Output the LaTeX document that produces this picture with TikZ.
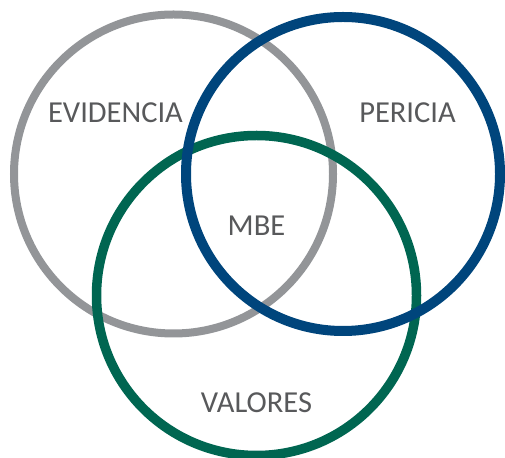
\documentclass[tikz,border=0pt]{standalone}
\usepackage{fontspec}
\setmainfont{Carlito}
\definecolor{ringgray}{HTML}{939598}
\definecolor{ringblue}{HTML}{00457C}
\definecolor{ringgreen}{HTML}{006651}
\definecolor{txt}{HTML}{58595B}
\tikzset{
  ring/.style={line width=#1},
  lbl/.style={text=txt, font=\fontsize{30.5}{31}\selectfont, inner sep=0pt}
}
\begin{document}
\begin{tikzpicture}[x=1pt,y=1pt]
\useasboundingbox (0,0) rectangle (505,457);
\draw[ringgray, line width=8pt] (173.5,283) circle (159.5);
\draw[ringgreen, line width=9.5pt] (256.5,161.5) circle (160);
\draw[ringblue, line width=10pt] (343,283) circle (157);
\node[lbl] (ev) at (115.5,344) {EVIDENCIA};
\node[lbl] (pe) at (407.5,344) {PERICIA};
\node[lbl] (mbe) at (256.5,231) {MBE};
\node[lbl] (va) at (256.5,54) {VALORES};
\end{tikzpicture}
\end{document}
